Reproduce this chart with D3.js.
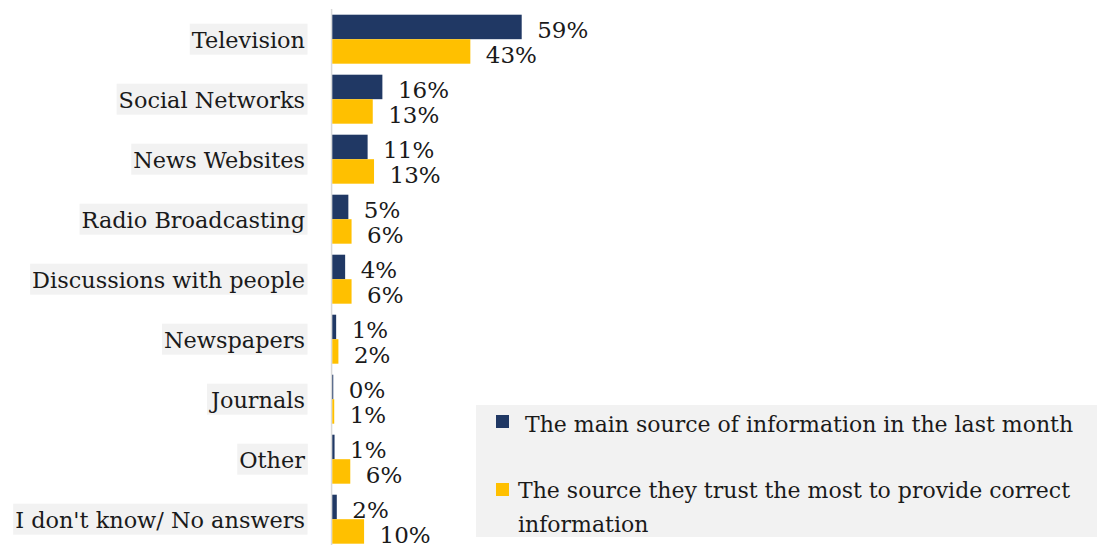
<!DOCTYPE html>
<html>
<head>
<meta charset="utf-8">
<script src="https://cdn.jsdelivr.net/npm/d3@7"></script>
<style>
  html, body { margin: 0; padding: 0; background: #ffffff; }
  svg { display: block; }
</style>
</head>
<body>
<svg id="chart" width="1097" height="545"></svg>
<script>
// ---- data ----
const categories = ["Television", "Social Networks", "News Websites", "Radio Broadcasting",
  "Discussions with people", "Newspapers", "Journals", "Other", "I don't know/ No answers"];
const mainSource = [59, 15.6, 11, 5, 4, 1.2, 0.3, 0.7, 1.4];
const trustedSource = [43, 12.6, 13, 6, 6, 1.9, 0.6, 5.6, 9.9];
const mainLabels = ["59%", "16%", "11%", "5%", "4%", "1%", "0%", "1%", "2%"];
const trustedLabels = ["43%", "13%", "13%", "6%", "6%", "2%", "1%", "6%", "10%"];
const seriesNames = ["The main source of information in the last month",
  "The source they trust the most to provide correct information"];
const seriesColors = ["#203864", "#FFC000"];

const FONT = "'DejaVu Serif', serif";
const svg = d3.select("#chart");

const x = d3.scaleLinear().domain([0, 59]).range([332.3, 521.7]);
const y = d3.scaleBand().domain(categories).range([9.2, 549.2])
  .paddingInner(11 / 60).paddingOuter(5.5 / 60);
const sub = d3.scaleBand().domain([0, 1]).range([0, y.bandwidth()]);

const series = [mainSource, trustedSource];
const seriesLabels = [mainLabels, trustedLabels];

// axis line
svg.append("line").attr("x1", 331.6).attr("x2", 331.6).attr("y1", 9).attr("y2", 545)
  .attr("stroke", "#d9d9d9").attr("stroke-width", 1.5);

// category labels with grey boxes
const catG = svg.append("g");
categories.forEach((c, i) => {
  const cy = y(c) + y.bandwidth() / 2;
  const g = catG.append("g");
  const t = g.append("text").attr("x", 305).attr("y", cy + 8.5)
    .attr("text-anchor", "end").attr("font-family", FONT).attr("font-size", 22.4)
    .attr("fill", "#1a1a1a").text(c);
  const bb = t.node().getBBox();
  g.insert("rect", "text").attr("x", bb.x - 2).attr("y", cy - 15.5)
    .attr("width", bb.width + 4.5).attr("height", 31).attr("fill", "#f2f2f2");
});

// bars and value labels
series.forEach((vals, s) => {
  const g = svg.append("g");
  g.selectAll("rect").data(categories).join("rect")
    .attr("x", x(0))
    .attr("y", (c) => y(c) + sub(s))
    .attr("width", (c, i) => Math.max(0.8, x(vals[i]) - x(0)))
    .attr("height", sub.bandwidth())
    .attr("fill", seriesColors[s]);
  g.selectAll("text").data(categories).join("text")
    .attr("x", (c, i) => x(vals[i]) + 15.5)
    .attr("y", (c) => y(c) + sub(s) + sub.bandwidth() - (s === 0 ? 1 : 0.5))
    .attr("font-family", FONT).attr("font-size", 23)
    .attr("fill", "#1a1a1a")
    .text((c, i) => seriesLabels[s][i]);
});

// legend
const lg = svg.append("g");
lg.append("rect").attr("x", 476).attr("y", 405).attr("width", 621).attr("height", 132)
  .attr("fill", "#f2f2f2");
const legendItems = [
  { lines: [seriesNames[0]], sq: [496, 415], tx: 525, ty: 432 },
  { lines: ["The source they trust the most to provide correct", "information"], sq: [496, 483], tx: 518, ty: 498 }
];
legendItems.forEach((it, i) => {
  lg.append("rect").attr("x", it.sq[0]).attr("y", it.sq[1]).attr("width", 13).attr("height", 13)
    .attr("fill", seriesColors[i]);
  const t = lg.append("text").attr("font-family", FONT).attr("font-size", 22)
    .attr("fill", "#1a1a1a");
  it.lines.forEach((ln, k) => {
    t.append("tspan").attr("x", it.tx).attr("y", it.ty + k * 34).text(ln);
  });
});
</script>
</body>
</html>
